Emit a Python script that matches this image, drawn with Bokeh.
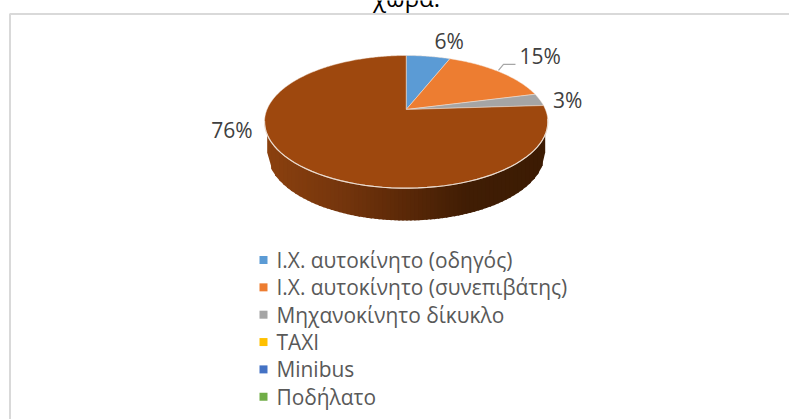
import math
from bokeh.plotting import figure
from bokeh.embed import file_html
from bokeh.resources import INLINE
from bokeh.models import Range1d
from bokeh.core.properties import value

# ---- data ----
categories = ["Ι.Χ. αυτοκίνητο (οδηγός)", "Ι.Χ. αυτοκίνητο (συνεπιβάτης)", "Μηχανοκίνητο δίκυκλο",
              "TAXI", "Minibus", "Ποδήλατο"]
shares = [6, 15, 3, 0, 0, 0]
other_share = [76]
colors = ["#5B9BD5", "#ED7D31", "#A5A5A5", "#FFC000", "#4472C4", "#70AD47"]
other_color = "#9E480E"
title_tail = "χώρα."

# ---- layout (page pixels) ----
W, H = 789, 419
APEX = (405.7, 109.0)
A, B, K = 139.2, 64.05, 0.186
ELL = (405.7, 121.3, 141.7, 66.3)
ELL2 = (405.7, 152.0, 139.0, 68.0)

def rim(theta):
    u, v = math.sin(theta), math.cos(theta)
    d = 1 + K * v
    return APEX[0] + A * u / d, APEX[1] - B * v / d

def slice_poly(a0, a1):
    n = max(2, int((a1 - a0) * 80))
    pts = [rim(a0 + (a1 - a0) * i / n) for i in range(n + 1)]
    return [APEX[0]] + [p[0] for p in pts], [APEX[1]] + [p[1] for p in pts]

def lerp_color(stops, t):
    for (t0, c0), (t1, c1) in zip(stops, stops[1:]):
        if t <= t1:
            f = (t - t0) / (t1 - t0)
            return "#%02x%02x%02x" % tuple(round(a + (b - a) * f) for a, b in zip(c0, c1))
    return "#%02x%02x%02x" % stops[-1][1]

p = figure(width=W, height=H, output_backend="svg", toolbar_location=None, margin=0,
           x_range=Range1d(0, W), y_range=Range1d(H, 0), min_border=0)
p.axis.visible = False
p.grid.visible = False
p.outline_line_color = None
p.background_fill_color = "white"

# frame
p.line([9.5, 9.5, W], [H, 13.5, 13.5], line_color="#D9D9D9", line_width=2)

# side wall, as vertical strips between upper rim and lower rim
stops = [(0.0, (138, 64, 14)), (0.25, (118, 54, 13)), (0.5, (90, 40, 7)), (0.72, (64, 29, 4)), (1.0, (60, 27, 3))]
def upper(x):
    f = (x - ELL[0]) / ELL[2]
    return ELL[1] + ELL[3] * math.sqrt(max(0, 1 - f * f))
def lower(x):
    f = (x - ELL2[0]) / ELL2[2]
    return ELL2[1] + ELL2[3] * math.sqrt(max(0, 1 - f * f))
x0, x1 = ELL2[0] - ELL2[2], ELL2[0] + ELL2[2]
N = 70
xs, ys, cs = [], [], []
for i in range(N):
    a = x0 + (x1 - x0) * i / N
    b = x0 + (x1 - x0) * (i + 1) / N
    m = min(b + 1.5, x1)
    xs.append([a, m, m, a])
    ys.append([upper(a) - 2, upper(m) - 2, lower(m), lower(a)])
    cs.append(lerp_color(stops, i / (N - 1)))
p.patches(xs, ys, fill_color=cs, line_color=None)

# top slices, clockwise from 12 o'clock
total = sum(shares) + sum(other_share)
ang = 0.0
label_anchor = []
all_shares = shares + other_share
all_colors = colors + [other_color]
for s, c in zip(all_shares, all_colors):
    a1 = ang + 2 * math.pi * s / total
    if s > 0:
        px, py = slice_poly(ang, a1)
        p.patch(px, py, fill_color=c, line_color="#F4E4D8", line_width=0.5)
    label_anchor.append(rim((ang + a1) / 2))
    ang = a1

# light highlight along the front rim
front = [rim(math.radians(d)) for d in range(98, 263, 3)]
p.line([q[0] for q in front], [q[1] for q in front], line_color="#EBDCD0", line_width=1.2)

# data labels
offsets = {0: (21, -15), 1: (41, -16), 2: (28, 0), 6: (-64, -34)}
for i, (dx, dy) in offsets.items():
    ax, ay = label_anchor[i]
    p.text([ax + dx], [ay + dy], text=[f"{all_shares[i]}%"], text_align="center", text_baseline="middle",
           text_font=value("Open Sans"), text_font_size="21px", text_color="#404040")

# leader line for the 15% label
lx, ly = label_anchor[1]
p.line([lx - 0.7, lx + 4.3, lx + 16.3], [ly - 1.4, ly - 7.4, ly - 7.4], line_color="#A6A6A6", line_width=1.2)

# legend
rows = [259.5 + 27.35 * i for i in range(len(categories))]
p.scatter([263] * len(rows), rows, marker="square", size=8, fill_color=colors, line_color=None)
p.text([276] * len(rows), rows, text=categories, text_baseline="middle", text_font=value("Open Sans"),
       text_font_size="20.9px", text_color="#595959")

# clipped title tail
p.text([406], [-3], text=[title_tail], text_align="center", text_baseline="alphabetic",
       text_font=value("Open Sans"), text_font_size="24px", text_color="#000000")

open("out.html", "w").write(file_html(p, INLINE))
